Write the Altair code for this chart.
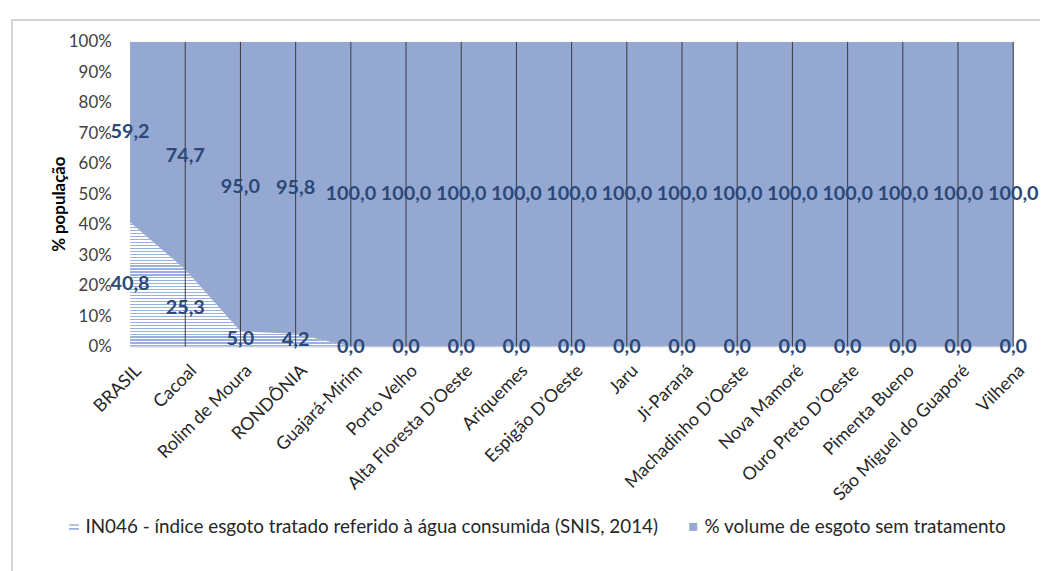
import altair as alt
import pandas as pd

categorias = ["BRASIL", "Cacoal", "Rolim de Moura", "RONDÔNIA", "Guajará-Mirim",
              "Porto Velho", "Alta Floresta D’Oeste", "Ariquemes", "Espigão D’Oeste",
              "Jaru", "Ji-Paraná", "Machadinho D’Oeste", "Nova Mamoré",
              "Ouro Preto D’Oeste", "Pimenta Bueno", "São Miguel do Guaporé", "Vilhena"]
tratado = [40.8, 25.3, 5.0, 4.2, 0.0, 0.0, 0.0, 0.0, 0.0, 0.0, 0.0, 0.0, 0.0, 0.0, 0.0, 0.0, 0.0]
sem_tratamento = [59.2, 74.7, 95.0, 95.8, 100.0, 100.0, 100.0, 100.0, 100.0, 100.0,
                  100.0, 100.0, 100.0, 100.0, 100.0, 100.0, 100.0]
series = ["IN046 - índice esgoto tratado referido à água consumida (SNIS, 2014)",
          "% volume de esgoto sem tratamento"]

df = pd.DataFrame({"cat": categorias, "tratado": tratado, "sem": sem_tratamento})
df["topo"] = df["tratado"] + df["sem"]
df["y_sem"] = df["tratado"] + df["sem"] / 2
df["y_trat"] = df["tratado"] / 2
df["lab_sem"] = [f"{v:.1f}".replace(".", ",") for v in df["sem"]]
df["lab_trat"] = [f"{v:.1f}".replace(".", ",") for v in df["tratado"]]

W, H = 890, 307
FONT = "Lato"
BLUE = "#95A8D2"
STRIPE = "#9AB0DC"
LABEL = "#2A4878"

# horizontal stripe pattern via hard-stop gradient
n = 42
stops = []
for i in range(n):
    a = i / n
    b = (i + 0.6) / n
    c = (i + 1) / n
    stops += [alt.GradientStop(offset=a, color="white"), alt.GradientStop(offset=b, color="white"),
              alt.GradientStop(offset=b, color=STRIPE), alt.GradientStop(offset=c, color=STRIPE)]
stripes = alt.Gradient(gradient="linear", stops=stops, x1=0, x2=0, y1=0, y2=1)

xs = alt.Scale(type="point", padding=0, domain=categorias)
ys = alt.Scale(domain=[0, 100], nice=False)

x_axis = alt.Axis(title=None, labelAngle=315, labelAlign="right", labelBaseline="top",
                  labelFont=FONT, labelFontSize=18, labelColor="#262626",
                  labelPadding=15, labelOffset=2, domain=False, ticks=False, grid=False,
                  labelLimit=400, labelOverlap=False)
y_axis = alt.Axis(title="% população", values=list(range(0, 101, 10)), tickCount=11,
                  labelExpr="datum.value + '%'", labelFont=FONT, labelFontSize=17,
                  labelColor="#404040", labelPadding=19, domain=False, ticks=False, grid=False,
                  labelOverlap=False,
                  titleFont=FONT, titleFontSize=17, titleFontWeight="bold", titleColor="#000000",
                  titleX=-71, titleY=163, titleAngle=270, titleBaseline="middle")


def X():
    return alt.X("cat:N", scale=xs, sort=categorias, axis=x_axis)


def Y(field):
    return alt.Y(field, scale=ys, axis=y_axis)


base = alt.Chart(df)

eqpath = "M-1.25,-0.7H1.25V-0.3H-1.25Z M-1.25,0.3H1.25V0.7H-1.25Z"
leg = alt.Legend(title=None, orient="none", legendX=-66, legendY=479, direction="horizontal",
                 labelFont=FONT, labelFontSize=19, labelColor="#262626", labelLimit=1000,
                 symbolSize=64, symbolStrokeWidth=0, columnPadding=25, labelOffset=2)

legend_df = pd.DataFrame({"serie": series, "cat": ["Jaru", "Jaru"], "v": [50, 50]})
legend_pts = alt.Chart(legend_df).mark_point(filled=True, opacity=1, size=30).encode(
    x=X(), y=Y("v:Q"),
    color=alt.Color("serie:N", scale=alt.Scale(domain=series, range=[STRIPE, BLUE]), legend=leg),
    shape=alt.Shape("serie:N", scale=alt.Scale(domain=series, range=[eqpath, "square"]), legend=leg),
)

area_bottom = base.mark_area(fill=stripes, opacity=1).encode(x=X(), y=Y("tratado:Q"))
area_top = base.mark_area(color=BLUE, opacity=1).encode(x=X(), y=Y("tratado:Q"), y2="topo:Q")

rules = base.mark_rule(color="#3A3A3A", strokeWidth=1).encode(
    x=X(), y=alt.Y(datum=0, scale=ys, axis=y_axis), y2=alt.datum(100)
).transform_filter("datum.cat != 'BRASIL'")

txt_top = base.mark_text(font=FONT, fontSize=20, fontWeight="bold", color=LABEL).encode(
    x=X(), y=Y("y_sem:Q"), text="lab_sem:N")
txt_bot = base.mark_text(font=FONT, fontSize=20, fontWeight="bold", color=LABEL).encode(
    x=X(), y=Y("y_trat:Q"), text="lab_trat:N")

frame = alt.Chart(pd.DataFrame({"a": [0]})).mark_rect(
    fill="transparent", stroke="#C6C6C6", strokeWidth=1.5).encode(
    x=alt.value(-119), x2=alt.value(940), y=alt.value(-22), y2=alt.value(560))

chart = alt.layer(frame, legend_pts, area_bottom, area_top, rules, txt_top, txt_bot).properties(
    width=W, height=H,
    autosize=alt.AutoSizeParams(type="none"),
    padding={"left": 123, "top": 32, "right": 27, "bottom": 224},
).configure_view(stroke=None).configure(background="white")

chart.save("out.html", embed_options={"renderer": "svg", "actions": False})
